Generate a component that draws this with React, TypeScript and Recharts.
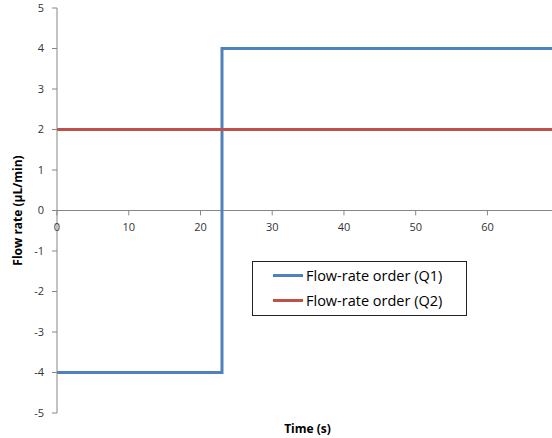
import { LineChart, Line, XAxis, YAxis, ReferenceLine, Legend } from 'recharts';

const time = [0, 23, 69];
const q1 = [-4, 4, 4];
const q2 = [2, 2, 2];
const xTicks = [0, 10, 20, 30, 40, 50, 60];
const yTicks = [-5, -4, -3, -2, -1, 0, 1, 2, 3, 4, 5];

const data = time.map((t, i) => ({ t, q1: q1[i], q2: q2[i] }));

const FONT = '"Open Sans", Lato, sans-serif';
const AXIS = '#868686';

function LegendBox({ payload }: any) {
  return (
    <div
      style={{
        border: '1px solid #222',
        background: '#fff',
        width: 213,
        height: 52,
        boxSizing: 'content-box',
        fontFamily: FONT,
        fontSize: 14.5,
        color: '#000',
        paddingTop: 1,
      }}
    >
      {(payload || []).map((p: any) => (
        <div key={p.value} style={{ display: 'flex', alignItems: 'center', height: 25, paddingLeft: 20 }}>
          <span style={{ display: 'inline-block', width: 30, height: 3, background: p.color, marginRight: 3 }} />
          <span>{p.value}</span>
        </div>
      ))}
    </div>
  );
}

export default function App() {
  return (
    <div style={{ position: 'absolute', left: 0, top: 0, background: '#fff' }}>
      <LineChart width={552} height={438} data={data} margin={{ top: 8, right: 0, left: 0, bottom: 0 }}>
        <XAxis
          dataKey="t"
          type="number"
          domain={[0, 69]}
          ticks={xTicks}
          tick={false}
          tickLine={false}
          axisLine={false}
          height={25}
          label={{ value: 'Time (s)', position: 'insideBottom', offset: 5, dx: 3, fontFamily: FONT, fontSize: 12, fontWeight: 700, fill: '#000' }}
        />
        <YAxis
          type="number"
          domain={[-5, 5]}
          ticks={yTicks}
          width={57}
          stroke={AXIS}
          tickSize={5}
          tickMargin={8}
          tick={{ fontFamily: FONT, fontSize: 11, fill: '#333' }}
          label={{ value: 'Flow rate (µL/min)', angle: -90, position: 'insideLeft', offset: 18, style: { textAnchor: 'middle' }, fontFamily: FONT, fontSize: 12, fontWeight: 700, fill: '#000' }}
        />
        <ReferenceLine y={0} stroke={AXIS} />
        {xTicks.map((v) => (
          <ReferenceLine
            key={v}
            segment={[{ x: v, y: 0 }, { x: v, y: -0.12 }]}
            stroke={AXIS}
            label={{ value: String(v), position: 'bottom', offset: 8, fontFamily: FONT, fontSize: 11, fill: '#333' }}
          />
        ))}
        <Line type="stepAfter" dataKey="q1" name="Flow-rate order (Q1)" stroke="#4F81BD" strokeWidth={3} dot={false} isAnimationActive={false} />
        <Line type="stepAfter" dataKey="q2" name="Flow-rate order (Q2)" stroke="#C0504D" strokeWidth={3} dot={false} isAnimationActive={false} />
        <Legend
          layout="vertical"
          align="center"
          verticalAlign="middle"
          content={<LegendBox />}
          wrapperStyle={{ position: 'absolute', left: 252, top: 261, width: 215, height: 54 }}
        />
      </LineChart>
    </div>
  );
}
